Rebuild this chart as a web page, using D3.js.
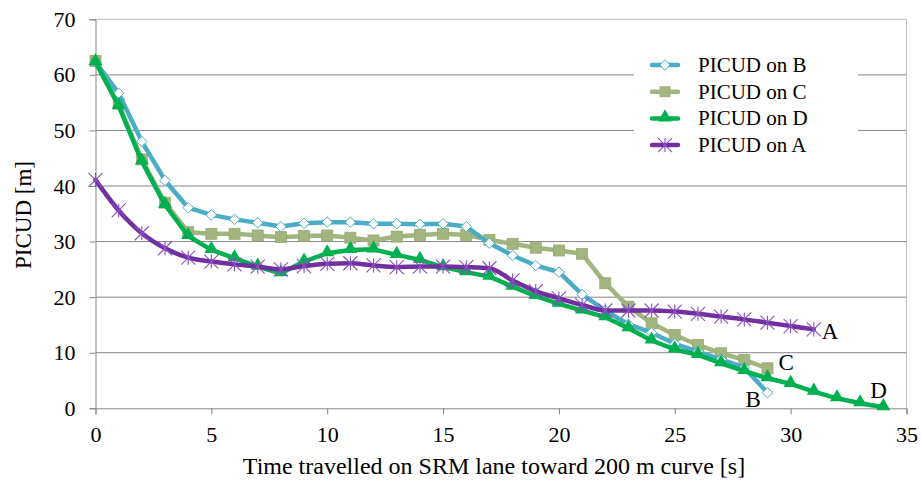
<!DOCTYPE html>
<html>
<head>
<meta charset="utf-8">
<script src="https://cdn.jsdelivr.net/npm/d3@7"></script>
<style>
  body { margin: 0; background: #fff; }
  svg { display: block; }
  text { font-family: "Liberation Serif", "Times New Roman", serif; fill: #000; }
</style>
</head>
<body>
<svg id="chart" width="921" height="480"></svg>
<script>
const timeB = d3.range(0, 30);
const picudB = [62.3, 56.7, 48.0, 41.0, 36.1, 34.8, 34.0, 33.4, 32.7, 33.3, 33.5, 33.5, 33.2, 33.2, 33.1, 33.2, 32.7, 29.7, 27.5, 25.7, 24.5, 20.5, 17.6, 15.1, 13.6, 11.6, 10.2, 8.8, 7.3, 2.8];
const timeC = d3.range(0, 30);
const picudC = [62.5, 54.8, 44.8, 37.0, 31.7, 31.4, 31.4, 31.1, 30.8, 31.0, 31.1, 30.7, 30.2, 30.9, 31.2, 31.4, 31.2, 30.3, 29.6, 28.9, 28.4, 27.8, 22.5, 18.3, 15.3, 13.2, 11.4, 9.9, 8.7, 7.2];
const timeD = d3.range(0, 35);
const picudD = [62.3, 54.4, 44.4, 36.6, 31.0, 28.5, 27.0, 25.5, 24.3, 26.4, 27.9, 28.5, 28.6, 27.6, 26.7, 25.4, 24.5, 23.7, 21.9, 20.2, 18.8, 17.6, 16.4, 14.4, 12.2, 10.6, 9.6, 8.1, 6.7, 5.4, 4.4, 3.0, 1.8, 0.9, 0.2];
const timeA = d3.range(0, 32);
const picudA = [41.1, 35.6, 31.5, 28.8, 27.1, 26.4, 25.9, 25.5, 25.0, 25.6, 26.0, 26.1, 25.7, 25.4, 25.5, 25.5, 25.4, 25.2, 23.0, 21.1, 19.8, 18.6, 17.6, 17.6, 17.6, 17.4, 17.0, 16.5, 16.0, 15.4, 14.8, 14.2];
const xTicks = [0, 5, 10, 15, 20, 25, 30, 35];
const yTicks = [0, 10, 20, 30, 40, 50, 60, 70];
const legendLabels = ["PICUD on B", "PICUD on C", "PICUD on D", "PICUD on A"];
const endLabels = ["B", "C", "D", "A"];

const FONT = '"Liberation Serif", "Times New Roman", serif';
const svg = d3.select("#chart");
const x = d3.scaleLinear().domain([0, 35]).range([95.5, 906.5]);
const y = d3.scaleLinear().domain([0, 70]).range([408.3, 19.3]);

// gridlines
svg.append("g").selectAll("line").data(yTicks.filter(v => v > 0 && v < 70)).join("line")
  .attr("x1", x(0)).attr("x2", x(35)).attr("y1", d => y(d)).attr("y2", d => y(d))
  .attr("stroke", "#868686").attr("stroke-width", 1);
// plot border top/right
svg.append("path")
  .attr("d", `M${x(0)},${y(70)}H${x(35)}V${y(0)}`)
  .attr("fill", "none").attr("stroke", "#BFBFBF").attr("stroke-width", 1);

// axes
const xAxis = d3.axisBottom(x).tickValues(xTicks).tickSize(6).tickPadding(12).tickFormat(d3.format("d"));
const gx = svg.append("g").attr("transform", `translate(0,${y(0)})`).call(xAxis);
gx.attr("font-family", FONT);
gx.select(".domain").attr("stroke", "#868686");
gx.selectAll(".tick line").attr("stroke", "#868686");
gx.selectAll(".tick text").style("font-size", "22px").style("font-family", FONT).attr("fill", "#000");

const yAxis = d3.axisLeft(y).tickValues(yTicks).tickSize(6).tickPadding(14).tickFormat(d3.format("d"));
const gy = svg.append("g").attr("transform", `translate(${x(0)},0)`).call(yAxis);
gy.attr("font-family", FONT);
gy.select(".domain").attr("stroke", "#868686");
gy.selectAll(".tick line").attr("stroke", "#868686");
gy.selectAll(".tick text").style("font-size", "22px").style("font-family", FONT).attr("fill", "#000");

// axis titles
svg.append("text").attr("x", 494).attr("y", 474).attr("text-anchor", "middle")
  .style("font-size", "24px").text("Time travelled on SRM lane toward 200 m curve [s]");
svg.append("text").attr("transform", "translate(31,215) rotate(-90)").attr("text-anchor", "middle")
  .style("font-size", "23px").text("PICUD [m]");

// legend background
svg.append("rect").attr("x", 634).attr("y", 48).attr("width", 224).attr("height", 110).attr("fill", "#fff");

const colB = "#4BACC6", colC = "#A3B57E", colD = "#00B050", colA = "#7030A0";

function drawLine(ts, vs, color, width, curve) {
  const data = ts.map((t, i) => [t, vs[i]]);
  svg.append("path").datum(data)
    .attr("fill", "none").attr("stroke", color).attr("stroke-width", width)
    .attr("stroke-linejoin", "round").attr("stroke-linecap", "round")
    .attr("d", d3.line().x(d => x(d[0])).y(d => y(d[1])).curve(curve));
  return data;
}

// C
const dC = drawLine(timeC, picudC, colC, 4.5, d3.curveLinear);
svg.append("g").selectAll("rect").data(dC).join("rect")
  .attr("x", d => x(d[0]) - 5.5).attr("y", d => y(d[1]) - 5.5)
  .attr("width", 11).attr("height", 11).attr("fill", colC).attr("stroke", "#98AB72").attr("stroke-width", 0.8);

// B
const dB = drawLine(timeB, picudB, colB, 4.5, d3.curveLinear);
const diamond = d3.symbol().type(d3.symbolDiamond2).size(70);
svg.append("g").selectAll("path").data(dB).join("path")
  .attr("transform", d => `translate(${x(d[0])},${y(d[1])})`)
  .attr("d", diamond).attr("fill", "#fff").attr("stroke", colB).attr("stroke-width", 1);

// D
const dD = drawLine(timeD, picudD, colD, 4.5, d3.curveLinear);
const tri = d3.symbol().type(d3.symbolTriangle).size(85);
svg.append("g").selectAll("path").data(dD).join("path")
  .attr("transform", d => `translate(${x(d[0])},${y(d[1]) - 1})`)
  .attr("d", tri).attr("fill", colD);

// A
const dA = drawLine(timeA, picudA, colA, 4.5, d3.curveMonotoneX);
const gA = svg.append("g").selectAll("g").data(dA).join("g")
  .attr("transform", d => `translate(${x(d[0])},${y(d[1])})`);
const r = 7;
gA.append("path")
  .attr("d", `M${-r},${-r}L${r},${r}M${-r},${r}L${r},${-r}M0,${-r}L0,${r}`)
  .attr("stroke", "#8A4FC0").attr("stroke-width", 1.1).attr("fill", "none");

// end labels
const endPos = [[dB[dB.length - 1], -22, 14], [dC[dC.length - 1], 11, 2], [dD[dD.length - 1], -13, -9], [dA[dA.length - 1], 8, 10]];
svg.append("g").selectAll("text").data(endPos).join("text")
  .attr("x", d => x(d[0][0]) + d[1]).attr("y", d => y(d[0][1]) + d[2])
  .style("font-size", "23px").text((d, i) => endLabels[i]);

// legend
const legendRows = [
  { label: legendLabels[0], color: colB, kind: "diamond" },
  { label: legendLabels[1], color: colC, kind: "square" },
  { label: legendLabels[2], color: colD, kind: "triangle" },
  { label: legendLabels[3], color: colA, kind: "star" }
];
const lg = svg.append("g").selectAll("g").data(legendRows).join("g")
  .attr("transform", (d, i) => `translate(0,${65 + i * 26.7})`);
lg.append("line").attr("x1", 652).attr("x2", 678).attr("y1", 0).attr("y2", 0)
  .attr("stroke", d => d.color).attr("stroke-width", 4.5).attr("stroke-linecap", "round");
lg.each(function(d) {
  const g = d3.select(this);
  if (d.kind === "diamond") g.append("path").attr("transform", "translate(665,0)").attr("d", diamond).attr("fill", "#fff").attr("stroke", d.color);
  if (d.kind === "square") g.append("rect").attr("x", 659.5).attr("y", -5.5).attr("width", 11).attr("height", 11).attr("fill", d.color);
  if (d.kind === "triangle") g.append("path").attr("transform", "translate(665,-1)").attr("d", tri).attr("fill", d.color);
  if (d.kind === "star") g.append("path").attr("d", `M${665 - r},${-r}L${665 + r},${r}M${665 - r},${r}L${665 + r},${-r}M665,${-r}L665,${r}`).attr("stroke", "#8A4FC0").attr("stroke-width", 1.1);
});
lg.append("text").attr("x", 698).attr("y", 7).style("font-size", "21px").text(d => d.label);
</script>
</body>
</html>
